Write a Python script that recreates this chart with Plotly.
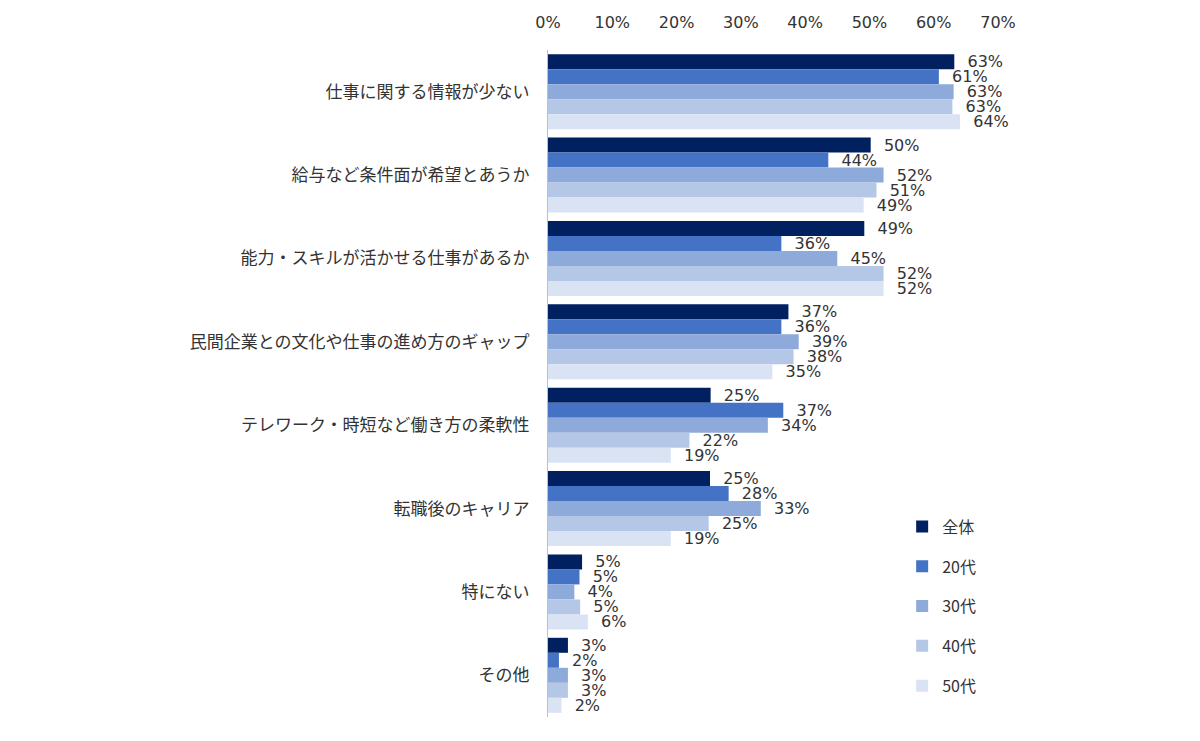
import plotly.graph_objects as go

categories = [
    "仕事に関する情報が少ない",
    "給与など条件面が希望とあうか",
    "能力・スキルが活かせる仕事があるか",
    "民間企業との文化や仕事の進め方のギャップ",
    "テレワーク・時短など働き方の柔軟性",
    "転職後のキャリア",
    "特にない",
    "その他",
]
series_names = ["全体", "20代", "30代", "40代", "50代"]
zentai = [63.2, 50.2, 49.2, 37.4, 25.3, 25.2, 5.3, 3.1]
age20 = [60.8, 43.6, 36.3, 36.3, 36.6, 28.1, 4.9, 1.7]
age30 = [63.1, 52.2, 45.0, 39.0, 34.2, 33.1, 4.1, 3.1]
age40 = [62.9, 51.1, 52.2, 38.2, 22.0, 25.0, 5.0, 3.1]
age50 = [64.1, 49.1, 52.2, 34.9, 19.1, 19.1, 6.2, 2.1]
series_values = [zentai, age20, age30, age40, age50]
colors = ["#002060", "#4472c4", "#8eaadb", "#b4c7e7", "#dae3f3"]
tick_vals = [0, 10, 20, 30, 40, 50, 60, 70]
tick_text = ["0%", "10%", "20%", "30%", "40%", "50%", "60%", "70%"]

num_font = "DejaVu Sans, Verdana, sans-serif"
jp_font = "Noto Sans CJK JP, sans-serif"

fig = go.Figure()
for name, vals, col in zip(series_names, series_values, colors):
    fig.add_trace(go.Bar(
        y=categories, x=vals, name=name, orientation="h",
        marker=dict(color=col, line=dict(width=0)),
        text=["\u00a0\u00a0" + f"{round(v):d}%" for v in vals],
        textposition="outside",
        textfont=dict(family=num_font, size=16, color="#333333"),
        constraintext="none", cliponaxis=False,
        legendgroup=name,
        hoverinfo="skip",
    ))

fig.update_layout(
    width=1200, height=741,
    margin=dict(l=548, r=202, t=50, b=24),
    paper_bgcolor="white", plot_bgcolor="white",
    barmode="group", bargap=0.1, bargroupgap=0,
    showlegend=True,
    legend=dict(
        x=0.787, y=0.311, xanchor="left", yanchor="top",
        font=dict(family=jp_font, size=16, color="#333333"),
        tracegroupgap=16, bgcolor="rgba(0,0,0,0)", borderwidth=0,
    ),
    xaxis=dict(
        side="top", range=[0, 70], tickvals=tick_vals, ticktext=tick_text,
        showgrid=False, zeroline=False, showline=False, ticks="",
        ticklabelstandoff=18,
        tickfont=dict(family=num_font, size=16, color="#333333"),
    ),
    yaxis=dict(
        autorange="reversed", showgrid=False, zeroline=False,
        showline=True, linecolor="#bfbfbf", linewidth=1, ticks="",
        ticklabelstandoff=14,
        tickfont=dict(family=jp_font, size=17, color="#333333"),
    ),
)

fig.write_html("out.html")
